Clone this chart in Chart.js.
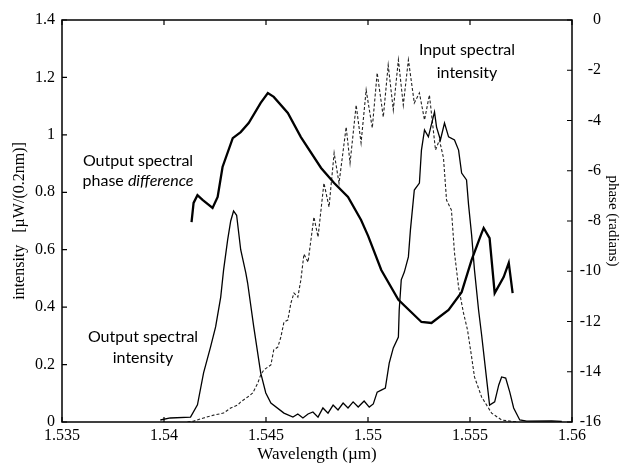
<!DOCTYPE html>
<html>
<head>
<meta charset="utf-8">
<script src="https://cdn.jsdelivr.net/npm/chart.js@4.4.0/dist/chart.umd.min.js"></script>
<style>
  body { margin: 0; background: #fff; }
</style>
</head>
<body>
<canvas id="chart" width="631" height="466"></canvas>
<script>
// tick values
const xTicks = [1.535, 1.54, 1.545, 1.55, 1.555, 1.56]
const leftTicks = [0, 0.2, 0.4, 0.6, 0.8, 1, 1.2, 1.4]
const rightTicks = [0, -2, -4, -6, -8, -10, -12, -14, -16]

// input spectral intensity (dashed)
const inputWl = [1.54115, 1.54145, 1.54194, 1.54243, 1.54292, 1.54327, 1.54361, 1.54376, 1.5441, 1.54435,
  1.5446, 1.54474, 1.54489, 1.54524, 1.54538, 1.54558, 1.54573, 1.54588, 1.54607, 1.54622,
  1.54637, 1.54656, 1.54671, 1.54686, 1.54706, 1.54735, 1.54755, 1.54784, 1.54809, 1.54834,
  1.54858, 1.54893, 1.54912, 1.54942, 1.54966, 1.54991, 1.55021, 1.55045, 1.55075, 1.55099,
  1.55124, 1.55149, 1.55173, 1.55198, 1.55227, 1.55252, 1.55277, 1.55301, 1.55331, 1.5535,
  1.5537, 1.55385, 1.55409, 1.55424, 1.55444, 1.55468, 1.55488, 1.55508, 1.55522, 1.55557,
  1.55606, 1.55655, 1.5573]
const inputInt = [0, 0.003, 0.014, 0.024, 0.031, 0.049, 0.059, 0.07, 0.087, 0.101,
  0.136, 0.164, 0.181, 0.199, 0.251, 0.261, 0.296, 0.348, 0.355, 0.414,
  0.449, 0.435, 0.495, 0.585, 0.557, 0.714, 0.644, 0.832, 0.749, 0.937,
  0.832, 1.027, 0.902, 1.104, 0.972, 1.156, 1.024, 1.216, 1.062, 1.243,
  1.087, 1.261, 1.104, 1.261, 1.111, 1.146, 1.052, 1.139, 0.947, 0.982,
  0.92, 0.773, 0.738, 0.589, 0.47, 0.38, 0.32, 0.226, 0.157, 0.087,
  0.031, 0.007, 0]

// output spectral intensity (thin solid)
const outputWl = [1.53982, 1.54031, 1.5413, 1.54164, 1.54194, 1.54228, 1.54253, 1.54278, 1.54292, 1.54312,
  1.54327, 1.54341, 1.54356, 1.54376, 1.54401, 1.5441, 1.5444, 1.54474, 1.54499, 1.54524,
  1.54588, 1.54632, 1.54656, 1.54681, 1.54706, 1.5473, 1.54755, 1.54779, 1.54804, 1.54829,
  1.54853, 1.54878, 1.54902, 1.54927, 1.54952, 1.54981, 1.55006, 1.55026, 1.55045, 1.55065,
  1.55085, 1.55104, 1.55124, 1.55149, 1.55153, 1.55163, 1.55178, 1.55198, 1.55208, 1.55227,
  1.55252, 1.55262, 1.55277, 1.55296, 1.55326, 1.55336, 1.55355, 1.55375, 1.55395, 1.55424,
  1.55444, 1.55459, 1.55483, 1.55493, 1.55508, 1.55522, 1.55542, 1.55557, 1.55582, 1.55596,
  1.55621, 1.55641, 1.55655, 1.55675, 1.55695, 1.55714, 1.55744, 1.55778, 1.559, 1.5595]
const outputInt = [0.007, 0.014, 0.017, 0.06, 0.171, 0.261, 0.331, 0.435, 0.529, 0.634,
  0.7, 0.735, 0.72, 0.6, 0.519, 0.484, 0.331, 0.171, 0.101, 0.066,
  0.031, 0.017, 0.028, 0.014, 0.028, 0.035, 0.017, 0.049, 0.031, 0.059,
  0.042, 0.066, 0.049, 0.07, 0.052, 0.073, 0.052, 0.063, 0.104, 0.111,
  0.118, 0.205, 0.258, 0.296, 0.39, 0.495, 0.522, 0.575, 0.669, 0.808,
  0.832, 0.947, 1.017, 0.993, 1.08, 1.027, 0.982, 1.041, 0.993, 0.982,
  0.947, 0.867, 0.843, 0.756, 0.651, 0.529, 0.39, 0.303, 0.146, 0.059,
  0.07, 0.129, 0.157, 0.153, 0.104, 0.049, 0.007, 0.003, 0.004, 0.002]

// output spectral phase difference (thick, right axis)
const phaseWl = [1.54135, 1.54145, 1.54164, 1.54189, 1.54238, 1.54263, 1.54287, 1.54337, 1.54376, 1.54415,
  1.54474, 1.54509, 1.54538, 1.54607, 1.54671, 1.5477, 1.54834, 1.54902, 1.54966, 1.55001,
  1.55065, 1.55149, 1.55262, 1.55311, 1.55395, 1.55459, 1.55508, 1.55557, 1.55567, 1.55596,
  1.55621, 1.55665, 1.5569, 1.55709]
const phaseVal = [-8.04, -7.28, -6.97, -7.16, -7.48, -7.04, -5.85, -4.7, -4.46, -4.1,
  -3.3, -2.91, -3.06, -3.7, -4.66, -5.89, -6.49, -7.04, -7.96, -8.6,
  -9.95, -11.14, -12.02, -12.06, -11.54, -10.83, -9.55, -8.48, -8.28, -8.68,
  -10.87, -10.23, -9.67, -10.87]

const pts = (xs, ys) => xs.map((x, i) => ({ x: x, y: ys[i] }))

const serif = '"Liberation Serif", "Times New Roman", serif'
const sans = 'Lato, "Open Sans", sans-serif'

// box + inward tick marks + curve labels
const framePlugin = {
  id: 'frame',
  afterDraw(chart) {
    const { ctx, chartArea: a, scales } = chart
    ctx.save()
    ctx.strokeStyle = '#000'
    ctx.lineWidth = 1.5
    ctx.strokeRect(a.left, a.top, a.right - a.left, a.bottom - a.top)
    ctx.lineWidth = 1.2
    ctx.beginPath()
    xTicks.forEach(v => {
      const x = scales.x.getPixelForValue(v)
      ctx.moveTo(x, a.bottom); ctx.lineTo(x, a.bottom - 5)
      ctx.moveTo(x, a.top); ctx.lineTo(x, a.top + 5)
    })
    leftTicks.forEach(v => {
      const y = scales.y.getPixelForValue(v)
      ctx.moveTo(a.left, y); ctx.lineTo(a.left + 5, y)
    })
    rightTicks.forEach(v => {
      const y = scales.y2.getPixelForValue(v)
      ctx.moveTo(a.right, y); ctx.lineTo(a.right - 5, y)
    })
    ctx.stroke()

    ctx.fillStyle = '#000'
    ctx.textAlign = 'center'
    ctx.textBaseline = 'middle'
    ctx.font = '16px ' + sans
    ctx.fillText('Output spectral', 138, 161)
    ctx.fillText('Input spectral', 467, 50)
    ctx.fillText('intensity', 467, 73)
    ctx.fillText('Output spectral', 143, 337)
    ctx.fillText('intensity', 143, 358)
    // "phase difference", second word in italics
    const w1 = ctx.measureText('phase ').width
    ctx.font = 'italic 16px ' + sans
    const w2 = ctx.measureText('difference').width
    const x0 = 138 - (w1 + w2) / 2
    ctx.textAlign = 'left'
    ctx.font = '16px ' + sans
    ctx.fillText('phase ', x0, 181)
    ctx.font = 'italic 16px ' + sans
    ctx.fillText('difference', x0 + w1, 181)
    ctx.restore()
  }
}

const fmt = v => String(parseFloat(Number(v).toFixed(3)))

new Chart(document.getElementById('chart'), {
  type: 'line',
  data: {
    datasets: [
      {
        label: 'Output spectral phase difference',
        data: pts(phaseWl, phaseVal),
        yAxisID: 'y2',
        borderColor: '#000',
        borderWidth: 2.3,
        pointRadius: 0,
        tension: 0
      },
      {
        label: 'Output spectral intensity',
        data: pts(outputWl, outputInt),
        yAxisID: 'y',
        borderColor: '#000',
        borderWidth: 1.3,
        pointRadius: 0,
        tension: 0
      },
      {
        label: 'Input spectral intensity',
        data: pts(inputWl, inputInt),
        yAxisID: 'y',
        borderColor: '#222',
        borderWidth: 1.1,
        borderDash: [3, 2],
        pointRadius: 0,
        tension: 0
      }
    ]
  },
  options: {
    responsive: false,
    animation: false,
    layout: { padding: { top: 20, left: 0, right: 30, bottom: 0 } },
    plugins: {
      legend: { display: false },
      tooltip: { enabled: false }
    },
    scales: {
      x: {
        type: 'linear',
        min: 1.535,
        max: 1.56,
        afterBuildTicks: s => { s.ticks = xTicks.map(v => ({ value: v })) },
        afterFit: s => { s.height = 44 },
        grid: { display: false, drawTicks: false },
        border: { display: false },
        ticks: { color: '#000', padding: 4, maxRotation: 0, font: { family: serif, size: 16 }, callback: fmt },
        title: { display: true, text: 'Wavelength (\u00b5m)', color: '#000', padding: { top: 0, bottom: 1 }, font: { family: serif, size: 17 } }
      },
      y: {
        position: 'left',
        min: 0,
        max: 1.4,
        afterBuildTicks: s => { s.ticks = leftTicks.map(v => ({ value: v })) },
        afterFit: s => { s.width = 62 },
        grid: { display: false, drawTicks: false },
        border: { display: false },
        ticks: { color: '#000', padding: 7, font: { family: serif, size: 16 }, callback: fmt },
        title: { display: true, text: 'intensity   [\u00b5W/(0.2nm)]', color: '#000', padding: { top: 10, bottom: 0 }, font: { family: serif, size: 16 } }
      },
      y2: {
        position: 'right',
        min: -16,
        max: 0,
        afterBuildTicks: s => { s.ticks = rightTicks.map(v => ({ value: v })) },
        afterFit: s => { s.width = 29 },
        grid: { display: false, drawTicks: false },
        border: { display: false },
        ticks: { color: '#000', padding: 7, crossAlign: 'far', font: { family: serif, size: 16 }, callback: fmt },
        title: { display: true, text: 'phase (radians)', color: '#000', padding: { top: -21, bottom: 0 }, font: { family: serif, size: 15 } }
      }
    }
  },
  plugins: [framePlugin]
})
</script>
</body>
</html>
